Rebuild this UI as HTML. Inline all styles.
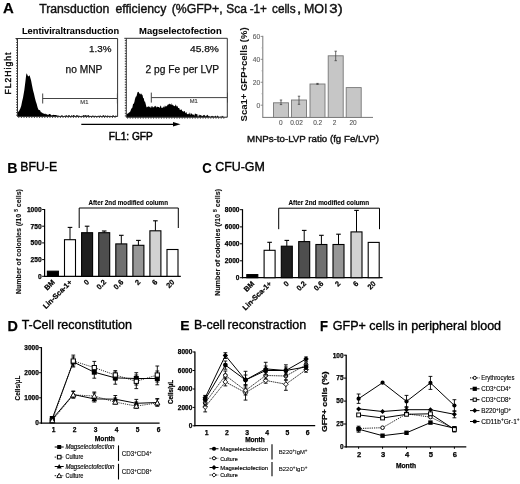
<!DOCTYPE html>
<html><head><meta charset="utf-8"><style>
html,body{margin:0;padding:0;background:#fff;}
svg{display:block;filter:blur(0.3px);}
text{font-family:"Liberation Sans", sans-serif;}
</style></head><body>
<svg width="520" height="484" viewBox="0 0 520 484">
<rect width="520" height="484" fill="#fff"/>
<text x="3.03" y="13.4" font-size="14.2" font-weight="bold" stroke="#000" stroke-width="0.25" textLength="10.76" lengthAdjust="spacingAndGlyphs">A</text>
<text x="39.13" y="12.8" font-size="12.3" fill="#111" stroke="#111" stroke-width="0.4" textLength="70.26" lengthAdjust="spacingAndGlyphs">Transduction</text>
<text x="115.38" y="12.8" font-size="12.3" fill="#111" stroke="#111" stroke-width="0.4" textLength="50.94" lengthAdjust="spacingAndGlyphs">efficiency</text>
<text x="171.74" y="12.8" font-size="12.3" fill="#111" stroke="#111" stroke-width="0.4" textLength="50.87" lengthAdjust="spacingAndGlyphs">(%GFP+,</text>
<text x="226.16" y="12.8" font-size="12.3" fill="#111" stroke="#111" stroke-width="0.4" textLength="20.64" lengthAdjust="spacingAndGlyphs">Sca</text>
<text x="249.68" y="12.8" font-size="12.3" fill="#111" stroke="#111" stroke-width="0.4" textLength="17.19" lengthAdjust="spacingAndGlyphs">-1+</text>
<text x="272.0" y="12.8" font-size="12.3" fill="#111" stroke="#111" stroke-width="0.4" textLength="23.63" lengthAdjust="spacingAndGlyphs">cells</text>
<text x="296.93" y="12.8" font-size="12.3" fill="#111" stroke="#111" stroke-width="0.4" textLength="4.25" lengthAdjust="spacingAndGlyphs">,</text>
<text x="303.98" y="12.8" font-size="12.3" fill="#111" stroke="#111" stroke-width="0.4" textLength="23.47" lengthAdjust="spacingAndGlyphs">MOI</text>
<text x="329.33" y="12.8" font-size="12.3" fill="#111" stroke="#111" stroke-width="0.4" textLength="13.3" lengthAdjust="spacingAndGlyphs">3)</text>
<text x="21.98" y="33.75" font-size="8.8" font-weight="bold" stroke="#000" stroke-width="0.05" textLength="97.09" lengthAdjust="spacingAndGlyphs">Lentiviraltransduction</text>
<text x="139.07" y="33.75" font-size="8.8" font-weight="bold" stroke="#000" stroke-width="0.05" textLength="82.62" lengthAdjust="spacingAndGlyphs">Magselectofection</text>
<path d="M17.5,116.5 L17.60,112.63 L18.50,111.56 L19.30,110.62 L20.20,108.65 L21.20,106.08 L22.10,101.59 L23.00,97.82 L24.30,90.27 L25.50,80.66 L26.20,74.63 L26.80,73.19 L27.60,75.46 L28.50,76.47 L29.60,75.17 L30.30,77.69 L31.10,80.51 L32.05,85.59 L33.00,90.32 L33.90,93.53 L34.80,97.54 L35.75,101.19 L36.70,104.09 L37.60,107.51 L38.50,109.73 L39.33,110.12 L40.17,110.54 L41.00,112.51 L41.71,112.25 L42.43,112.88 L43.14,113.39 L43.86,113.44 L44.57,114.02 L45.29,113.57 L46.00,114.42 L46.75,114.05 L47.50,114.86 L48.25,114.91 L49.00,113.94 L49.75,114.12 L50.50,114.35 L51.25,115.53 L52.00,114.91 L52.72,115.21 L53.44,114.78 L54.17,115.09 L54.89,114.95 L55.61,114.93 L56.33,115.29 L57.06,115.31 L57.78,115.79 L58.50,115.50 L59.22,115.88 L59.94,115.80 L60.67,116.02 L61.39,115.60 L62.11,114.92 L62.83,115.92 L63.56,116.09 L64.28,116.04 L65.00,115.60 L65.71,115.81 L66.43,115.11 L67.14,115.98 L67.86,115.63 L68.57,115.23 L69.29,114.92 L70.00,116.04 L70.71,116.23 L71.43,114.98 L72.14,115.98 L72.86,115.44 L73.57,115.08 L74.29,115.29 L75.00,115.96 L75.71,116.11 L76.43,114.95 L77.14,115.76 L77.86,114.97 L78.57,115.91 L79.29,115.38 L80.00,116.15 L80.71,116.30 L81.43,115.64 L82.14,116.34 L82.86,115.38 L83.57,115.06 L84.29,115.79 L85.00,115.00 L85.71,115.24 L86.43,115.54 L87.14,115.83 L87.86,115.20 L88.57,115.05 L89.29,116.21 L90.00,115.44 L90.71,116.35 L91.42,116.27 L92.13,115.54 L92.84,115.67 L93.55,115.75 L94.26,115.93 L94.97,115.87 L95.68,115.83 L96.39,115.92 L97.11,116.37 L97.82,115.77 L98.53,115.67 L99.24,116.08 L99.95,115.41 L100.66,115.50 L101.37,116.45 L102.08,115.82 L102.79,115.86 L103.50,115.12 L104.21,115.69 L104.92,115.92 L105.63,115.14 L106.34,115.98 L107.05,116.01 L107.76,115.22 L108.47,116.02 L109.18,115.79 L109.89,116.10 L110.61,115.65 L111.32,116.15 L112.03,116.20 L112.74,115.20 L113.45,115.26 L114.16,116.13 L114.87,116.53 L115.58,115.54 L116.29,115.83 L117.00,115.90 L117.6,116.5 Z" fill="#000"/>
<path d="M15.5,38.5 H117.6 V116.5 H17.5 V38.5" fill="none" stroke="#333" stroke-width="1"/>
<line x1="16.0" y1="115.2" x2="17.5" y2="115.2" stroke="#333" stroke-width="0.9" />
<line x1="16.0" y1="112.60000000000001" x2="17.5" y2="112.60000000000001" stroke="#333" stroke-width="0.9" />
<line x1="16.0" y1="110.0" x2="17.5" y2="110.0" stroke="#333" stroke-width="0.9" />
<line x1="16.0" y1="107.4" x2="17.5" y2="107.4" stroke="#333" stroke-width="0.9" />
<line x1="16.0" y1="104.8" x2="17.5" y2="104.8" stroke="#333" stroke-width="0.9" />
<line x1="16.0" y1="102.2" x2="17.5" y2="102.2" stroke="#333" stroke-width="0.9" />
<line x1="16.0" y1="99.6" x2="17.5" y2="99.6" stroke="#333" stroke-width="0.9" />
<line x1="16.0" y1="97.0" x2="17.5" y2="97.0" stroke="#333" stroke-width="0.9" />
<line x1="16.0" y1="94.4" x2="17.5" y2="94.4" stroke="#333" stroke-width="0.9" />
<line x1="16.0" y1="91.8" x2="17.5" y2="91.8" stroke="#333" stroke-width="0.9" />
<line x1="16.0" y1="89.2" x2="17.5" y2="89.2" stroke="#333" stroke-width="0.9" />
<line x1="16.0" y1="86.6" x2="17.5" y2="86.6" stroke="#333" stroke-width="0.9" />
<line x1="16.0" y1="84.0" x2="17.5" y2="84.0" stroke="#333" stroke-width="0.9" />
<line x1="16.0" y1="81.4" x2="17.5" y2="81.4" stroke="#333" stroke-width="0.9" />
<line x1="16.0" y1="78.80000000000001" x2="17.5" y2="78.80000000000001" stroke="#333" stroke-width="0.9" />
<line x1="16.0" y1="76.2" x2="17.5" y2="76.2" stroke="#333" stroke-width="0.9" />
<line x1="16.0" y1="73.6" x2="17.5" y2="73.6" stroke="#333" stroke-width="0.9" />
<line x1="16.0" y1="71.0" x2="17.5" y2="71.0" stroke="#333" stroke-width="0.9" />
<line x1="16.0" y1="68.4" x2="17.5" y2="68.4" stroke="#333" stroke-width="0.9" />
<line x1="16.0" y1="65.80000000000001" x2="17.5" y2="65.80000000000001" stroke="#333" stroke-width="0.9" />
<line x1="16.0" y1="63.2" x2="17.5" y2="63.2" stroke="#333" stroke-width="0.9" />
<line x1="16.0" y1="60.6" x2="17.5" y2="60.6" stroke="#333" stroke-width="0.9" />
<line x1="16.0" y1="58.0" x2="17.5" y2="58.0" stroke="#333" stroke-width="0.9" />
<line x1="16.0" y1="55.4" x2="17.5" y2="55.4" stroke="#333" stroke-width="0.9" />
<line x1="16.0" y1="52.8" x2="17.5" y2="52.8" stroke="#333" stroke-width="0.9" />
<line x1="16.0" y1="50.2" x2="17.5" y2="50.2" stroke="#333" stroke-width="0.9" />
<line x1="16.0" y1="47.599999999999994" x2="17.5" y2="47.599999999999994" stroke="#333" stroke-width="0.9" />
<line x1="16.0" y1="45.0" x2="17.5" y2="45.0" stroke="#333" stroke-width="0.9" />
<line x1="16.0" y1="42.400000000000006" x2="17.5" y2="42.400000000000006" stroke="#333" stroke-width="0.9" />
<line x1="16.0" y1="39.8" x2="17.5" y2="39.8" stroke="#333" stroke-width="0.9" />
<line x1="18.8" y1="116.5" x2="18.8" y2="118.0" stroke="#333" stroke-width="0.9" />
<line x1="21.400000000000002" y1="116.5" x2="21.400000000000002" y2="118.0" stroke="#333" stroke-width="0.9" />
<line x1="24.0" y1="116.5" x2="24.0" y2="118.0" stroke="#333" stroke-width="0.9" />
<line x1="26.6" y1="116.5" x2="26.6" y2="118.0" stroke="#333" stroke-width="0.9" />
<line x1="29.200000000000003" y1="116.5" x2="29.200000000000003" y2="118.0" stroke="#333" stroke-width="0.9" />
<line x1="31.8" y1="116.5" x2="31.8" y2="118.0" stroke="#333" stroke-width="0.9" />
<line x1="34.400000000000006" y1="116.5" x2="34.400000000000006" y2="118.0" stroke="#333" stroke-width="0.9" />
<line x1="37.0" y1="116.5" x2="37.0" y2="118.0" stroke="#333" stroke-width="0.9" />
<line x1="39.6" y1="116.5" x2="39.6" y2="118.0" stroke="#333" stroke-width="0.9" />
<line x1="42.2" y1="116.5" x2="42.2" y2="118.0" stroke="#333" stroke-width="0.9" />
<line x1="44.8" y1="116.5" x2="44.8" y2="118.0" stroke="#333" stroke-width="0.9" />
<line x1="47.400000000000006" y1="116.5" x2="47.400000000000006" y2="118.0" stroke="#333" stroke-width="0.9" />
<line x1="50.0" y1="116.5" x2="50.0" y2="118.0" stroke="#333" stroke-width="0.9" />
<line x1="52.60000000000001" y1="116.5" x2="52.60000000000001" y2="118.0" stroke="#333" stroke-width="0.9" />
<line x1="55.2" y1="116.5" x2="55.2" y2="118.0" stroke="#333" stroke-width="0.9" />
<line x1="57.8" y1="116.5" x2="57.8" y2="118.0" stroke="#333" stroke-width="0.9" />
<line x1="60.400000000000006" y1="116.5" x2="60.400000000000006" y2="118.0" stroke="#333" stroke-width="0.9" />
<line x1="63.0" y1="116.5" x2="63.0" y2="118.0" stroke="#333" stroke-width="0.9" />
<line x1="65.60000000000001" y1="116.5" x2="65.60000000000001" y2="118.0" stroke="#333" stroke-width="0.9" />
<line x1="68.2" y1="116.5" x2="68.2" y2="118.0" stroke="#333" stroke-width="0.9" />
<line x1="70.8" y1="116.5" x2="70.8" y2="118.0" stroke="#333" stroke-width="0.9" />
<line x1="73.4" y1="116.5" x2="73.4" y2="118.0" stroke="#333" stroke-width="0.9" />
<line x1="76.0" y1="116.5" x2="76.0" y2="118.0" stroke="#333" stroke-width="0.9" />
<line x1="78.60000000000001" y1="116.5" x2="78.60000000000001" y2="118.0" stroke="#333" stroke-width="0.9" />
<line x1="81.2" y1="116.5" x2="81.2" y2="118.0" stroke="#333" stroke-width="0.9" />
<line x1="83.8" y1="116.5" x2="83.8" y2="118.0" stroke="#333" stroke-width="0.9" />
<line x1="86.4" y1="116.5" x2="86.4" y2="118.0" stroke="#333" stroke-width="0.9" />
<line x1="89.0" y1="116.5" x2="89.0" y2="118.0" stroke="#333" stroke-width="0.9" />
<line x1="91.6" y1="116.5" x2="91.6" y2="118.0" stroke="#333" stroke-width="0.9" />
<line x1="94.2" y1="116.5" x2="94.2" y2="118.0" stroke="#333" stroke-width="0.9" />
<line x1="96.8" y1="116.5" x2="96.8" y2="118.0" stroke="#333" stroke-width="0.9" />
<line x1="99.4" y1="116.5" x2="99.4" y2="118.0" stroke="#333" stroke-width="0.9" />
<line x1="102.0" y1="116.5" x2="102.0" y2="118.0" stroke="#333" stroke-width="0.9" />
<line x1="104.6" y1="116.5" x2="104.6" y2="118.0" stroke="#333" stroke-width="0.9" />
<line x1="107.2" y1="116.5" x2="107.2" y2="118.0" stroke="#333" stroke-width="0.9" />
<line x1="109.8" y1="116.5" x2="109.8" y2="118.0" stroke="#333" stroke-width="0.9" />
<line x1="112.4" y1="116.5" x2="112.4" y2="118.0" stroke="#333" stroke-width="0.9" />
<line x1="115.0" y1="116.5" x2="115.0" y2="118.0" stroke="#333" stroke-width="0.9" />
<path d="M126.3,117.2 L126.40,114.76 L127.20,113.75 L128.00,113.62 L128.75,112.73 L129.50,112.13 L130.25,111.52 L131.00,109.44 L131.67,108.16 L132.33,107.76 L133.00,104.18 L133.67,103.69 L134.33,102.16 L135.00,98.97 L135.75,96.72 L136.50,96.35 L137.50,92.27 L138.50,91.72 L139.50,93.62 L140.25,94.60 L141.00,93.19 L141.75,94.40 L142.50,95.03 L143.15,97.93 L143.80,98.33 L144.40,101.50 L145.00,101.57 L145.65,103.79 L146.30,106.42 L146.87,107.58 L147.43,106.86 L148.00,106.73 L148.67,106.27 L149.33,107.25 L150.00,106.13 L150.57,107.79 L151.13,107.81 L151.70,105.91 L152.27,106.11 L152.83,107.53 L153.40,107.00 L153.98,107.54 L154.56,106.32 L155.13,105.80 L155.71,106.33 L156.29,107.81 L156.87,106.43 L157.44,106.71 L158.02,106.99 L158.60,107.08 L159.18,106.94 L159.76,108.26 L160.33,106.00 L160.91,105.47 L161.49,107.99 L162.07,107.70 L162.64,107.89 L163.22,106.23 L163.80,107.56 L164.38,107.34 L164.96,105.21 L165.53,106.52 L166.11,106.62 L166.69,105.98 L167.27,105.42 L167.84,104.62 L168.42,104.61 L169.00,104.14 L169.57,103.54 L170.13,104.85 L170.70,103.85 L171.27,105.17 L171.83,102.88 L172.40,105.13 L172.98,104.81 L173.57,105.72 L174.15,105.91 L174.73,106.19 L175.32,105.55 L175.90,104.24 L176.48,106.78 L177.06,105.66 L177.63,106.51 L178.21,108.01 L178.79,108.11 L179.37,108.29 L179.94,110.25 L180.52,109.83 L181.10,109.56 L181.68,109.61 L182.26,111.61 L182.83,110.84 L183.41,111.99 L183.99,111.09 L184.57,110.95 L185.14,112.20 L185.72,113.29 L186.30,111.78 L186.88,113.69 L187.45,114.23 L188.03,114.08 L188.60,114.31 L189.18,112.20 L189.75,114.11 L190.32,114.94 L190.90,112.84 L191.47,113.63 L192.05,113.80 L192.62,114.70 L193.20,114.58 L193.78,114.79 L194.36,115.71 L194.94,113.61 L195.52,113.82 L196.10,114.09 L196.68,114.15 L197.26,114.06 L197.84,116.66 L198.42,116.39 L199.00,114.31 L199.58,115.54 L200.16,115.08 L200.74,115.15 L201.32,115.32 L201.90,116.21 L202.47,116.06 L203.04,115.45 L203.61,115.00 L204.18,115.41 L204.75,114.86 L205.32,116.09 L205.89,116.56 L206.46,115.64 L207.03,114.82 L207.60,115.12 L208.17,115.68 L208.73,116.35 L209.30,116.87 L209.87,115.77 L210.44,116.97 L211.01,116.49 L211.58,115.98 L212.15,115.83 L212.72,116.20 L213.29,116.80 L213.86,116.03 L214.43,116.82 L215.00,116.19 L215.57,115.60 L216.14,116.43 L216.71,116.89 L217.29,115.16 L217.86,116.16 L218.43,116.18 L219.00,117.46 L219.57,117.64 L220.14,116.08 L220.71,117.56 L221.29,117.27 L221.86,115.81 L222.43,116.39 L223.00,115.44 L223.57,117.39 L224.14,116.98 L224.71,117.63 L225.29,117.38 L225.86,117.04 L226.43,117.24 L227.00,116.60 L227.3,117.2 Z" fill="#000"/>
<path d="M124.3,38.3 H227.3 V117.2 H126.3 V38.3" fill="none" stroke="#333" stroke-width="1"/>
<line x1="124.8" y1="115.9" x2="126.3" y2="115.9" stroke="#333" stroke-width="0.9" />
<line x1="124.8" y1="113.30000000000001" x2="126.3" y2="113.30000000000001" stroke="#333" stroke-width="0.9" />
<line x1="124.8" y1="110.7" x2="126.3" y2="110.7" stroke="#333" stroke-width="0.9" />
<line x1="124.8" y1="108.10000000000001" x2="126.3" y2="108.10000000000001" stroke="#333" stroke-width="0.9" />
<line x1="124.8" y1="105.5" x2="126.3" y2="105.5" stroke="#333" stroke-width="0.9" />
<line x1="124.8" y1="102.9" x2="126.3" y2="102.9" stroke="#333" stroke-width="0.9" />
<line x1="124.8" y1="100.30000000000001" x2="126.3" y2="100.30000000000001" stroke="#333" stroke-width="0.9" />
<line x1="124.8" y1="97.7" x2="126.3" y2="97.7" stroke="#333" stroke-width="0.9" />
<line x1="124.8" y1="95.10000000000001" x2="126.3" y2="95.10000000000001" stroke="#333" stroke-width="0.9" />
<line x1="124.8" y1="92.5" x2="126.3" y2="92.5" stroke="#333" stroke-width="0.9" />
<line x1="124.8" y1="89.9" x2="126.3" y2="89.9" stroke="#333" stroke-width="0.9" />
<line x1="124.8" y1="87.30000000000001" x2="126.3" y2="87.30000000000001" stroke="#333" stroke-width="0.9" />
<line x1="124.8" y1="84.7" x2="126.3" y2="84.7" stroke="#333" stroke-width="0.9" />
<line x1="124.8" y1="82.1" x2="126.3" y2="82.1" stroke="#333" stroke-width="0.9" />
<line x1="124.8" y1="79.5" x2="126.3" y2="79.5" stroke="#333" stroke-width="0.9" />
<line x1="124.8" y1="76.9" x2="126.3" y2="76.9" stroke="#333" stroke-width="0.9" />
<line x1="124.8" y1="74.30000000000001" x2="126.3" y2="74.30000000000001" stroke="#333" stroke-width="0.9" />
<line x1="124.8" y1="71.7" x2="126.3" y2="71.7" stroke="#333" stroke-width="0.9" />
<line x1="124.8" y1="69.1" x2="126.3" y2="69.1" stroke="#333" stroke-width="0.9" />
<line x1="124.8" y1="66.5" x2="126.3" y2="66.5" stroke="#333" stroke-width="0.9" />
<line x1="124.8" y1="63.900000000000006" x2="126.3" y2="63.900000000000006" stroke="#333" stroke-width="0.9" />
<line x1="124.8" y1="61.300000000000004" x2="126.3" y2="61.300000000000004" stroke="#333" stroke-width="0.9" />
<line x1="124.8" y1="58.7" x2="126.3" y2="58.7" stroke="#333" stroke-width="0.9" />
<line x1="124.8" y1="56.1" x2="126.3" y2="56.1" stroke="#333" stroke-width="0.9" />
<line x1="124.8" y1="53.5" x2="126.3" y2="53.5" stroke="#333" stroke-width="0.9" />
<line x1="124.8" y1="50.900000000000006" x2="126.3" y2="50.900000000000006" stroke="#333" stroke-width="0.9" />
<line x1="124.8" y1="48.3" x2="126.3" y2="48.3" stroke="#333" stroke-width="0.9" />
<line x1="124.8" y1="45.7" x2="126.3" y2="45.7" stroke="#333" stroke-width="0.9" />
<line x1="124.8" y1="43.10000000000001" x2="126.3" y2="43.10000000000001" stroke="#333" stroke-width="0.9" />
<line x1="124.8" y1="40.5" x2="126.3" y2="40.5" stroke="#333" stroke-width="0.9" />
<line x1="127.6" y1="117.2" x2="127.6" y2="118.7" stroke="#333" stroke-width="0.9" />
<line x1="130.2" y1="117.2" x2="130.2" y2="118.7" stroke="#333" stroke-width="0.9" />
<line x1="132.79999999999998" y1="117.2" x2="132.79999999999998" y2="118.7" stroke="#333" stroke-width="0.9" />
<line x1="135.4" y1="117.2" x2="135.4" y2="118.7" stroke="#333" stroke-width="0.9" />
<line x1="138.0" y1="117.2" x2="138.0" y2="118.7" stroke="#333" stroke-width="0.9" />
<line x1="140.6" y1="117.2" x2="140.6" y2="118.7" stroke="#333" stroke-width="0.9" />
<line x1="143.2" y1="117.2" x2="143.2" y2="118.7" stroke="#333" stroke-width="0.9" />
<line x1="145.79999999999998" y1="117.2" x2="145.79999999999998" y2="118.7" stroke="#333" stroke-width="0.9" />
<line x1="148.4" y1="117.2" x2="148.4" y2="118.7" stroke="#333" stroke-width="0.9" />
<line x1="151.0" y1="117.2" x2="151.0" y2="118.7" stroke="#333" stroke-width="0.9" />
<line x1="153.6" y1="117.2" x2="153.6" y2="118.7" stroke="#333" stroke-width="0.9" />
<line x1="156.2" y1="117.2" x2="156.2" y2="118.7" stroke="#333" stroke-width="0.9" />
<line x1="158.8" y1="117.2" x2="158.8" y2="118.7" stroke="#333" stroke-width="0.9" />
<line x1="161.4" y1="117.2" x2="161.4" y2="118.7" stroke="#333" stroke-width="0.9" />
<line x1="164.0" y1="117.2" x2="164.0" y2="118.7" stroke="#333" stroke-width="0.9" />
<line x1="166.6" y1="117.2" x2="166.6" y2="118.7" stroke="#333" stroke-width="0.9" />
<line x1="169.2" y1="117.2" x2="169.2" y2="118.7" stroke="#333" stroke-width="0.9" />
<line x1="171.8" y1="117.2" x2="171.8" y2="118.7" stroke="#333" stroke-width="0.9" />
<line x1="174.4" y1="117.2" x2="174.4" y2="118.7" stroke="#333" stroke-width="0.9" />
<line x1="177.0" y1="117.2" x2="177.0" y2="118.7" stroke="#333" stroke-width="0.9" />
<line x1="179.6" y1="117.2" x2="179.6" y2="118.7" stroke="#333" stroke-width="0.9" />
<line x1="182.2" y1="117.2" x2="182.2" y2="118.7" stroke="#333" stroke-width="0.9" />
<line x1="184.8" y1="117.2" x2="184.8" y2="118.7" stroke="#333" stroke-width="0.9" />
<line x1="187.4" y1="117.2" x2="187.4" y2="118.7" stroke="#333" stroke-width="0.9" />
<line x1="190.0" y1="117.2" x2="190.0" y2="118.7" stroke="#333" stroke-width="0.9" />
<line x1="192.6" y1="117.2" x2="192.6" y2="118.7" stroke="#333" stroke-width="0.9" />
<line x1="195.2" y1="117.2" x2="195.2" y2="118.7" stroke="#333" stroke-width="0.9" />
<line x1="197.8" y1="117.2" x2="197.8" y2="118.7" stroke="#333" stroke-width="0.9" />
<line x1="200.39999999999998" y1="117.2" x2="200.39999999999998" y2="118.7" stroke="#333" stroke-width="0.9" />
<line x1="203.0" y1="117.2" x2="203.0" y2="118.7" stroke="#333" stroke-width="0.9" />
<line x1="205.6" y1="117.2" x2="205.6" y2="118.7" stroke="#333" stroke-width="0.9" />
<line x1="208.2" y1="117.2" x2="208.2" y2="118.7" stroke="#333" stroke-width="0.9" />
<line x1="210.8" y1="117.2" x2="210.8" y2="118.7" stroke="#333" stroke-width="0.9" />
<line x1="213.39999999999998" y1="117.2" x2="213.39999999999998" y2="118.7" stroke="#333" stroke-width="0.9" />
<line x1="216.0" y1="117.2" x2="216.0" y2="118.7" stroke="#333" stroke-width="0.9" />
<line x1="218.6" y1="117.2" x2="218.6" y2="118.7" stroke="#333" stroke-width="0.9" />
<line x1="221.2" y1="117.2" x2="221.2" y2="118.7" stroke="#333" stroke-width="0.9" />
<line x1="223.8" y1="117.2" x2="223.8" y2="118.7" stroke="#333" stroke-width="0.9" />
<line x1="42.7" y1="98.5" x2="117.4" y2="98.5" stroke="#444" stroke-width="1" />
<line x1="42.7" y1="93.5" x2="42.7" y2="103.5" stroke="#444" stroke-width="1" />
<line x1="117.4" y1="93.5" x2="117.4" y2="103.5" stroke="#444" stroke-width="1" />
<text x="84.35000000000001" y="104.2" font-size="5.8" text-anchor="middle" fill="#444" stroke="#444" stroke-width="0.15">M1</text>
<line x1="151.3" y1="97.6" x2="227.5" y2="97.6" stroke="#444" stroke-width="1" />
<line x1="151.3" y1="92.6" x2="151.3" y2="102.6" stroke="#444" stroke-width="1" />
<line x1="227.5" y1="92.6" x2="227.5" y2="102.6" stroke="#444" stroke-width="1" />
<text x="193.70000000000002" y="103.3" font-size="5.8" text-anchor="middle" fill="#444" stroke="#444" stroke-width="0.15">M1</text>
<text x="89.05" y="52" font-size="9.3" fill="#111" stroke="#111" stroke-width="0.25" textLength="22.4" lengthAdjust="spacingAndGlyphs">1.3%</text>
<text x="65.52" y="72.9" font-size="10" fill="#111" stroke="#111" stroke-width="0.25" textLength="36.81" lengthAdjust="spacingAndGlyphs">no MNP</text>
<text x="189.97" y="52.4" font-size="9.3" fill="#111" stroke="#111" stroke-width="0.25" textLength="29.0" lengthAdjust="spacingAndGlyphs">45.8%</text>
<text x="145.49" y="72.9" font-size="10" fill="#111" stroke="#111" stroke-width="0.25" textLength="73.64" lengthAdjust="spacingAndGlyphs">2 pg Fe per LVP</text>
<text transform="translate(11.2,94.4) rotate(-90)" font-size="8.6" stroke="#000" stroke-width="0.35" textLength="41.8" lengthAdjust="spacing">FL2Hight</text>
<line x1="81.3" y1="124.3" x2="175" y2="124.3" stroke="#000" stroke-width="1.3" />
<path d="M173,122 L180.5,124.3 L173,126.6 Z" fill="#000"/>
<text x="108.87" y="140" font-size="10" stroke="#000" stroke-width="0.45" textLength="43.97" lengthAdjust="spacingAndGlyphs">FL1: GFP</text>
<line x1="262.8" y1="35.8" x2="262.8" y2="117.9" stroke="#777" stroke-width="1" />
<line x1="262.8" y1="117.4" x2="373" y2="117.4" stroke="#777" stroke-width="1" />
<line x1="260.6" y1="36.41000000000001" x2="262.8" y2="36.41000000000001" stroke="#777" stroke-width="0.8" />
<text x="260.2" y="38.71000000000001" font-size="6.6" text-anchor="end" fill="#666" stroke="#666" stroke-width="0.15">60</text>
<line x1="260.6" y1="59.34" x2="262.8" y2="59.34" stroke="#777" stroke-width="0.8" />
<text x="260.2" y="61.64" font-size="6.6" text-anchor="end" fill="#666" stroke="#666" stroke-width="0.15">40</text>
<line x1="260.6" y1="82.27000000000001" x2="262.8" y2="82.27000000000001" stroke="#777" stroke-width="0.8" />
<text x="260.2" y="84.57000000000001" font-size="6.6" text-anchor="end" fill="#666" stroke="#666" stroke-width="0.15">20</text>
<line x1="260.6" y1="105.2" x2="262.8" y2="105.2" stroke="#777" stroke-width="0.8" />
<text x="260.2" y="107.5" font-size="6.6" text-anchor="end" fill="#666" stroke="#666" stroke-width="0.15">0</text>
<line x1="261.5" y1="47.875" x2="262.8" y2="47.875" stroke="#999" stroke-width="0.7" />
<line x1="261.5" y1="70.805" x2="262.8" y2="70.805" stroke="#999" stroke-width="0.7" />
<line x1="261.5" y1="93.735" x2="262.8" y2="93.735" stroke="#999" stroke-width="0.7" />
<rect x="273.5" y="102.8" width="15" height="14.600000000000009" fill="#c6c6c6" stroke="#777" stroke-width="0.9"/>
<line x1="281.0" y1="100" x2="281.0" y2="104.6" stroke="#444" stroke-width="0.8" />
<line x1="279.8" y1="100" x2="282.2" y2="100" stroke="#444" stroke-width="0.8" />
<line x1="279.8" y1="104.6" x2="282.2" y2="104.6" stroke="#444" stroke-width="0.8" />
<rect x="291.5" y="100" width="15" height="17.400000000000006" fill="#c6c6c6" stroke="#777" stroke-width="0.9"/>
<line x1="299.0" y1="96.2" x2="299.0" y2="104.3" stroke="#444" stroke-width="0.8" />
<line x1="297.8" y1="96.2" x2="300.2" y2="96.2" stroke="#444" stroke-width="0.8" />
<line x1="297.8" y1="104.3" x2="300.2" y2="104.3" stroke="#444" stroke-width="0.8" />
<rect x="310" y="84" width="15" height="33.400000000000006" fill="#c6c6c6" stroke="#777" stroke-width="0.9"/>
<line x1="317.5" y1="83.4" x2="317.5" y2="84.4" stroke="#444" stroke-width="0.8" />
<line x1="316.3" y1="83.4" x2="318.7" y2="83.4" stroke="#444" stroke-width="0.8" />
<line x1="316.3" y1="84.4" x2="318.7" y2="84.4" stroke="#444" stroke-width="0.8" />
<rect x="328.2" y="55.8" width="15" height="61.60000000000001" fill="#c6c6c6" stroke="#777" stroke-width="0.9"/>
<line x1="335.7" y1="51.2" x2="335.7" y2="60.7" stroke="#444" stroke-width="0.8" />
<line x1="334.5" y1="51.2" x2="336.9" y2="51.2" stroke="#444" stroke-width="0.8" />
<line x1="334.5" y1="60.7" x2="336.9" y2="60.7" stroke="#444" stroke-width="0.8" />
<rect x="346.2" y="87.6" width="15" height="29.80000000000001" fill="#c6c6c6" stroke="#777" stroke-width="0.9"/>
<text x="280.8" y="125.2" font-size="6.5" text-anchor="middle" fill="#555" stroke="#555" stroke-width="0.1">0</text>
<text x="296.5" y="125.2" font-size="6.5" text-anchor="middle" fill="#555" stroke="#555" stroke-width="0.1">0.02</text>
<text x="317.7" y="125.2" font-size="6.5" text-anchor="middle" fill="#555" stroke="#555" stroke-width="0.1">0.2</text>
<text x="334.6" y="125.2" font-size="6.5" text-anchor="middle" fill="#555" stroke="#555" stroke-width="0.1">2</text>
<text x="353" y="125.2" font-size="6.5" text-anchor="middle" fill="#555" stroke="#555" stroke-width="0.1">20</text>
<text transform="translate(247.1,121.4) rotate(-90)" font-size="9.0" font-weight="bold" fill="#111" stroke="#111" stroke-width="0.05" textLength="94.0" lengthAdjust="spacingAndGlyphs">Sca1+ GFP+cells (%)</text>
<text x="247.11" y="141.5" font-size="9.7" fill="#111" stroke="#111" stroke-width="0.4" textLength="131.78" lengthAdjust="spacingAndGlyphs">MNPs-to-LVP ratio (fg Fe/LVP)</text>
<text x="7.25" y="172.6" font-size="14" font-weight="bold" stroke="#000" stroke-width="0.1" textLength="10.3" lengthAdjust="spacingAndGlyphs">B</text>
<text x="20.29" y="171.0" font-size="12.2" stroke="#000" stroke-width="0.35" textLength="36.83" lengthAdjust="spacingAndGlyphs">BFU-E</text>
<line x1="44.6" y1="209.0" x2="44.6" y2="276.90000000000003" stroke="#000" stroke-width="1.2" />
<line x1="44.0" y1="276.3" x2="180.8" y2="276.3" stroke="#000" stroke-width="1.2" />
<line x1="42.1" y1="209.5" x2="44.6" y2="209.5" stroke="#000" stroke-width="1" />
<text x="41.6" y="211.8" font-size="6.6" font-weight="bold" text-anchor="end" stroke="#000" stroke-width="0.25">1000</text>
<line x1="42.1" y1="226.2" x2="44.6" y2="226.2" stroke="#000" stroke-width="1" />
<text x="41.6" y="228.5" font-size="6.6" font-weight="bold" text-anchor="end" stroke="#000" stroke-width="0.25">750</text>
<line x1="42.1" y1="242.9" x2="44.6" y2="242.9" stroke="#000" stroke-width="1" />
<text x="41.6" y="245.20000000000002" font-size="6.6" font-weight="bold" text-anchor="end" stroke="#000" stroke-width="0.25">500</text>
<line x1="42.1" y1="259.6" x2="44.6" y2="259.6" stroke="#000" stroke-width="1" />
<text x="41.6" y="261.90000000000003" font-size="6.6" font-weight="bold" text-anchor="end" stroke="#000" stroke-width="0.25">250</text>
<line x1="42.1" y1="276.3" x2="44.6" y2="276.3" stroke="#000" stroke-width="1" />
<text x="41.6" y="278.6" font-size="6.6" font-weight="bold" text-anchor="end" stroke="#000" stroke-width="0.25">0</text>
<rect x="47.4" y="271.2" width="11" height="5.100000000000023" fill="#000" stroke="#000" stroke-width="1.1"/>
<rect x="64.5" y="239.7" width="11" height="36.60000000000002" fill="#fff" stroke="#000" stroke-width="1.1"/>
<line x1="70" y1="227.4" x2="70" y2="239.7" stroke="#000" stroke-width="1" />
<line x1="67.7" y1="227.4" x2="72.3" y2="227.4" stroke="#000" stroke-width="1.1" />
<rect x="81.6" y="232.7" width="11" height="43.60000000000002" fill="#1e1e1e" stroke="#000" stroke-width="1.1"/>
<line x1="87.1" y1="226.2" x2="87.1" y2="232.7" stroke="#000" stroke-width="1" />
<line x1="84.8" y1="226.2" x2="89.39999999999999" y2="226.2" stroke="#000" stroke-width="1.1" />
<rect x="98.7" y="232.7" width="11" height="43.60000000000002" fill="#4e4e4e" stroke="#000" stroke-width="1.1"/>
<line x1="104.2" y1="231.0" x2="104.2" y2="232.7" stroke="#000" stroke-width="1" />
<line x1="101.9" y1="231.0" x2="106.5" y2="231.0" stroke="#000" stroke-width="1.1" />
<rect x="115.8" y="243.9" width="11" height="32.400000000000006" fill="#707070" stroke="#000" stroke-width="1.1"/>
<line x1="121.3" y1="235.3" x2="121.3" y2="243.9" stroke="#000" stroke-width="1" />
<line x1="119.0" y1="235.3" x2="123.6" y2="235.3" stroke="#000" stroke-width="1.1" />
<rect x="132.9" y="245.3" width="11" height="31.0" fill="#979797" stroke="#000" stroke-width="1.1"/>
<line x1="138.4" y1="240.4" x2="138.4" y2="245.3" stroke="#000" stroke-width="1" />
<line x1="136.1" y1="240.4" x2="140.70000000000002" y2="240.4" stroke="#000" stroke-width="1.1" />
<rect x="149.9" y="230.8" width="11" height="45.5" fill="#d2d2d2" stroke="#000" stroke-width="1.1"/>
<line x1="155.4" y1="220.8" x2="155.4" y2="230.8" stroke="#000" stroke-width="1" />
<line x1="153.1" y1="220.8" x2="157.70000000000002" y2="220.8" stroke="#000" stroke-width="1.1" />
<rect x="167.0" y="249.5" width="11" height="26.80000000000001" fill="#fff" stroke="#000" stroke-width="1.1"/>
<path d="M79.2,228 V208 H178.3 V228" fill="none" stroke="#000" stroke-width="1"/>
<text x="88.44" y="204.6" font-size="6.5" font-weight="bold" stroke="#000" stroke-width="0.1" textLength="79.55" lengthAdjust="spacingAndGlyphs">After 2nd modified column</text>
<text transform="translate(55.4,282.7) rotate(-45)" font-size="7.4" font-weight="bold" text-anchor="end" stroke="#000" stroke-width="0.25">BM</text>
<text transform="translate(72.5,282.7) rotate(-45)" font-size="7.4" font-weight="bold" text-anchor="end" stroke="#000" stroke-width="0.25">Lin-Sca-1+</text>
<text transform="translate(89.6,282.7) rotate(-45)" font-size="7.4" font-weight="bold" text-anchor="end" stroke="#000" stroke-width="0.25">0</text>
<text transform="translate(106.7,282.7) rotate(-45)" font-size="7.4" font-weight="bold" text-anchor="end" stroke="#000" stroke-width="0.25">0.2</text>
<text transform="translate(123.8,282.7) rotate(-45)" font-size="7.4" font-weight="bold" text-anchor="end" stroke="#000" stroke-width="0.25">0.6</text>
<text transform="translate(140.9,282.7) rotate(-45)" font-size="7.4" font-weight="bold" text-anchor="end" stroke="#000" stroke-width="0.25">2</text>
<text transform="translate(157.9,282.7) rotate(-45)" font-size="7.4" font-weight="bold" text-anchor="end" stroke="#000" stroke-width="0.25">6</text>
<text transform="translate(175.0,282.7) rotate(-45)" font-size="7.4" font-weight="bold" text-anchor="end" stroke="#000" stroke-width="0.25">20</text>
<text transform="translate(21.4,294.2) rotate(-90)" font-size="6.7" font-weight="bold" fill="#111" stroke="#111" stroke-width="0.12" textLength="105.2" lengthAdjust="spacingAndGlyphs">Number of colonies (/10 <tspan font-size="4.6" dy="-3.2">5</tspan><tspan dy="3.2"> cells)</tspan></text>
<text x="202.36" y="172.6" font-size="14" font-weight="bold" stroke="#000" stroke-width="0.1" textLength="9.5" lengthAdjust="spacingAndGlyphs">C</text>
<text x="215.17" y="171.0" font-size="12.2" stroke="#000" stroke-width="0.35" textLength="49.75" lengthAdjust="spacingAndGlyphs">CFU-GM</text>
<line x1="242.5" y1="209.2" x2="242.5" y2="278.3" stroke="#000" stroke-width="1.2" />
<line x1="241.9" y1="277.7" x2="382.6" y2="277.7" stroke="#000" stroke-width="1.2" />
<line x1="240.0" y1="209.7" x2="242.5" y2="209.7" stroke="#000" stroke-width="1" />
<text x="239.5" y="212.0" font-size="6.6" font-weight="bold" text-anchor="end" stroke="#000" stroke-width="0.25">8000</text>
<line x1="240.0" y1="226.9" x2="242.5" y2="226.9" stroke="#000" stroke-width="1" />
<text x="239.5" y="229.20000000000002" font-size="6.6" font-weight="bold" text-anchor="end" stroke="#000" stroke-width="0.25">6000</text>
<line x1="240.0" y1="243.8" x2="242.5" y2="243.8" stroke="#000" stroke-width="1" />
<text x="239.5" y="246.10000000000002" font-size="6.6" font-weight="bold" text-anchor="end" stroke="#000" stroke-width="0.25">4000</text>
<line x1="240.0" y1="260.8" x2="242.5" y2="260.8" stroke="#000" stroke-width="1" />
<text x="239.5" y="263.1" font-size="6.6" font-weight="bold" text-anchor="end" stroke="#000" stroke-width="0.25">2000</text>
<line x1="240.0" y1="277.7" x2="242.5" y2="277.7" stroke="#000" stroke-width="1" />
<text x="239.5" y="280.0" font-size="6.6" font-weight="bold" text-anchor="end" stroke="#000" stroke-width="0.25">0</text>
<rect x="246.8" y="274.6" width="11" height="3.099999999999966" fill="#000" stroke="#000" stroke-width="1.1"/>
<rect x="264.1" y="250.3" width="11" height="27.399999999999977" fill="#fff" stroke="#000" stroke-width="1.1"/>
<line x1="269.6" y1="242.3" x2="269.6" y2="250.3" stroke="#000" stroke-width="1" />
<line x1="267.3" y1="242.3" x2="271.90000000000003" y2="242.3" stroke="#000" stroke-width="1.1" />
<rect x="281.3" y="246.2" width="11" height="31.5" fill="#1e1e1e" stroke="#000" stroke-width="1.1"/>
<line x1="286.8" y1="240.4" x2="286.8" y2="246.2" stroke="#000" stroke-width="1" />
<line x1="284.5" y1="240.4" x2="289.1" y2="240.4" stroke="#000" stroke-width="1.1" />
<rect x="298.7" y="241.6" width="11" height="36.099999999999994" fill="#4e4e4e" stroke="#000" stroke-width="1.1"/>
<line x1="304.2" y1="230.4" x2="304.2" y2="241.6" stroke="#000" stroke-width="1" />
<line x1="301.9" y1="230.4" x2="306.5" y2="230.4" stroke="#000" stroke-width="1.1" />
<rect x="315.9" y="244.5" width="11" height="33.19999999999999" fill="#707070" stroke="#000" stroke-width="1.1"/>
<line x1="321.4" y1="235.3" x2="321.4" y2="244.5" stroke="#000" stroke-width="1" />
<line x1="319.09999999999997" y1="235.3" x2="323.7" y2="235.3" stroke="#000" stroke-width="1.1" />
<rect x="333.0" y="244.5" width="11" height="33.19999999999999" fill="#979797" stroke="#000" stroke-width="1.1"/>
<line x1="338.5" y1="234.2" x2="338.5" y2="244.5" stroke="#000" stroke-width="1" />
<line x1="336.2" y1="234.2" x2="340.8" y2="234.2" stroke="#000" stroke-width="1.1" />
<rect x="351.0" y="231.9" width="11" height="45.79999999999998" fill="#d2d2d2" stroke="#000" stroke-width="1.1"/>
<line x1="356.5" y1="210.4" x2="356.5" y2="231.9" stroke="#000" stroke-width="1" />
<line x1="354.2" y1="210.4" x2="358.8" y2="210.4" stroke="#000" stroke-width="1.1" />
<rect x="368.2" y="242.4" width="11" height="35.29999999999998" fill="#fff" stroke="#000" stroke-width="1.1"/>
<path d="M278.7,229.2 V208.2 H379.5 V229.2" fill="none" stroke="#000" stroke-width="1"/>
<text x="288.44" y="205" font-size="6.5" font-weight="bold" stroke="#000" stroke-width="0.1" textLength="80.75" lengthAdjust="spacingAndGlyphs">After 2nd modified column</text>
<text transform="translate(254.8,284.09999999999997) rotate(-45)" font-size="7.4" font-weight="bold" text-anchor="end" stroke="#000" stroke-width="0.25">BM</text>
<text transform="translate(272.1,284.09999999999997) rotate(-45)" font-size="7.4" font-weight="bold" text-anchor="end" stroke="#000" stroke-width="0.25">Lin-Sca-1+</text>
<text transform="translate(289.3,284.09999999999997) rotate(-45)" font-size="7.4" font-weight="bold" text-anchor="end" stroke="#000" stroke-width="0.25">0</text>
<text transform="translate(306.7,284.09999999999997) rotate(-45)" font-size="7.4" font-weight="bold" text-anchor="end" stroke="#000" stroke-width="0.25">0.2</text>
<text transform="translate(323.9,284.09999999999997) rotate(-45)" font-size="7.4" font-weight="bold" text-anchor="end" stroke="#000" stroke-width="0.25">0.6</text>
<text transform="translate(341.0,284.09999999999997) rotate(-45)" font-size="7.4" font-weight="bold" text-anchor="end" stroke="#000" stroke-width="0.25">2</text>
<text transform="translate(359.0,284.09999999999997) rotate(-45)" font-size="7.4" font-weight="bold" text-anchor="end" stroke="#000" stroke-width="0.25">6</text>
<text transform="translate(376.2,284.09999999999997) rotate(-45)" font-size="7.4" font-weight="bold" text-anchor="end" stroke="#000" stroke-width="0.25">20</text>
<text transform="translate(219.7,296.1) rotate(-90)" font-size="6.7" font-weight="bold" fill="#111" stroke="#111" stroke-width="0.12" textLength="107.4" lengthAdjust="spacingAndGlyphs">Number of colonies (/10 <tspan font-size="4.6" dy="-3.2">5</tspan><tspan dy="3.2"> cells)</tspan></text>
<text x="7.54" y="331.3" font-size="14" font-weight="bold" stroke="#000" stroke-width="0.25" textLength="10.36" lengthAdjust="spacingAndGlyphs">D</text>
<text x="21.63" y="329.2" font-size="12.6" stroke="#000" stroke-width="0.35" textLength="32.39" lengthAdjust="spacingAndGlyphs">T-Cell</text>
<text x="57.17" y="329.2" font-size="12.6" stroke="#000" stroke-width="0.35" textLength="74.75" lengthAdjust="spacingAndGlyphs">reconstitution</text>
<line x1="41.4" y1="347.1" x2="41.4" y2="423.8" stroke="#000" stroke-width="1.3" />
<line x1="40.8" y1="423.2" x2="159.6" y2="423.2" stroke="#000" stroke-width="1.3" />
<line x1="39.1" y1="347.6" x2="41.4" y2="347.6" stroke="#000" stroke-width="1" />
<text x="38.8" y="349.90000000000003" font-size="6.5" font-weight="bold" text-anchor="end" stroke="#000" stroke-width="0.25">3000</text>
<line x1="39.1" y1="372.7" x2="41.4" y2="372.7" stroke="#000" stroke-width="1" />
<text x="38.8" y="375.0" font-size="6.5" font-weight="bold" text-anchor="end" stroke="#000" stroke-width="0.25">2000</text>
<line x1="39.1" y1="397.8" x2="41.4" y2="397.8" stroke="#000" stroke-width="1" />
<text x="38.8" y="400.1" font-size="6.5" font-weight="bold" text-anchor="end" stroke="#000" stroke-width="0.25">1000</text>
<line x1="39.1" y1="423.0" x2="41.4" y2="423.0" stroke="#000" stroke-width="1" />
<text x="38.8" y="425.3" font-size="6.5" font-weight="bold" text-anchor="end" stroke="#000" stroke-width="0.25">0</text>
<text x="53.699999999999996" y="431.9" font-size="6.6" font-weight="bold" text-anchor="middle" stroke="#000" stroke-width="0.25">1</text>
<text x="74.7" y="431.9" font-size="6.6" font-weight="bold" text-anchor="middle" stroke="#000" stroke-width="0.25">2</text>
<text x="95.7" y="431.9" font-size="6.6" font-weight="bold" text-anchor="middle" stroke="#000" stroke-width="0.25">3</text>
<text x="116.7" y="431.9" font-size="6.6" font-weight="bold" text-anchor="middle" stroke="#000" stroke-width="0.25">4</text>
<text x="137.70000000000002" y="431.9" font-size="6.6" font-weight="bold" text-anchor="middle" stroke="#000" stroke-width="0.25">5</text>
<text x="158.70000000000002" y="431.9" font-size="6.6" font-weight="bold" text-anchor="middle" stroke="#000" stroke-width="0.25">6</text>
<text x="94.75" y="440.8" font-size="6.8" font-weight="bold" stroke="#000" stroke-width="0.25" textLength="20.06" lengthAdjust="spacingAndGlyphs">Month</text>
<text transform="translate(19.9,400.5) rotate(-90)" font-size="6.6" font-weight="bold" stroke="#000" stroke-width="0.1" textLength="25.0" lengthAdjust="spacingAndGlyphs">Cells/µL</text>
<path d="M52.30,418.50 L73.30,362.00 L94.30,372.20 L115.30,377.90 L136.30,378.50 L157.30,378.50" fill="none" stroke="#000" stroke-width="1.0"/>
<line x1="73.3" y1="357" x2="73.3" y2="367" stroke="#000" stroke-width="0.9" />
<line x1="71.39999999999999" y1="357" x2="75.2" y2="357" stroke="#000" stroke-width="0.9" />
<line x1="71.39999999999999" y1="367" x2="75.2" y2="367" stroke="#000" stroke-width="0.9" />
<line x1="94.3" y1="366" x2="94.3" y2="378.2" stroke="#000" stroke-width="0.9" />
<line x1="92.39999999999999" y1="366" x2="96.2" y2="366" stroke="#000" stroke-width="0.9" />
<line x1="92.39999999999999" y1="378.2" x2="96.2" y2="378.2" stroke="#000" stroke-width="0.9" />
<line x1="115.3" y1="372" x2="115.3" y2="384.2" stroke="#000" stroke-width="0.9" />
<line x1="113.39999999999999" y1="372" x2="117.2" y2="372" stroke="#000" stroke-width="0.9" />
<line x1="113.39999999999999" y1="384.2" x2="117.2" y2="384.2" stroke="#000" stroke-width="0.9" />
<line x1="136.3" y1="372.7" x2="136.3" y2="385" stroke="#000" stroke-width="0.9" />
<line x1="134.4" y1="372.7" x2="138.20000000000002" y2="372.7" stroke="#000" stroke-width="0.9" />
<line x1="134.4" y1="385" x2="138.20000000000002" y2="385" stroke="#000" stroke-width="0.9" />
<line x1="157.3" y1="371" x2="157.3" y2="384.8" stroke="#000" stroke-width="0.9" />
<line x1="155.4" y1="371" x2="159.20000000000002" y2="371" stroke="#000" stroke-width="0.9" />
<line x1="155.4" y1="384.8" x2="159.20000000000002" y2="384.8" stroke="#000" stroke-width="0.9" />
<rect x="49.8" y="416.0" width="5.0" height="5.0" fill="#000"/>
<rect x="70.8" y="359.5" width="5.0" height="5.0" fill="#000"/>
<rect x="91.8" y="369.7" width="5.0" height="5.0" fill="#000"/>
<rect x="112.8" y="375.4" width="5.0" height="5.0" fill="#000"/>
<rect x="133.8" y="376.0" width="5.0" height="5.0" fill="#000"/>
<rect x="154.8" y="376.0" width="5.0" height="5.0" fill="#000"/>
<path d="M52.30,420.80 L73.30,361.00 L94.30,367.60 L115.30,375.00 L136.30,381.30 L157.30,375.00" fill="none" stroke="#000" stroke-width="0.8" stroke-dasharray="1.2,1"/>
<line x1="73.3" y1="355.1" x2="73.3" y2="366" stroke="#000" stroke-width="0.9" />
<line x1="71.39999999999999" y1="355.1" x2="75.2" y2="355.1" stroke="#000" stroke-width="0.9" />
<line x1="71.39999999999999" y1="366" x2="75.2" y2="366" stroke="#000" stroke-width="0.9" />
<line x1="94.3" y1="361.4" x2="94.3" y2="372" stroke="#000" stroke-width="0.9" />
<line x1="92.39999999999999" y1="361.4" x2="96.2" y2="361.4" stroke="#000" stroke-width="0.9" />
<line x1="92.39999999999999" y1="372" x2="96.2" y2="372" stroke="#000" stroke-width="0.9" />
<line x1="115.3" y1="370.6" x2="115.3" y2="380" stroke="#000" stroke-width="0.9" />
<line x1="113.39999999999999" y1="370.6" x2="117.2" y2="370.6" stroke="#000" stroke-width="0.9" />
<line x1="113.39999999999999" y1="380" x2="117.2" y2="380" stroke="#000" stroke-width="0.9" />
<line x1="136.3" y1="375" x2="136.3" y2="388.6" stroke="#000" stroke-width="0.9" />
<line x1="134.4" y1="375" x2="138.20000000000002" y2="375" stroke="#000" stroke-width="0.9" />
<line x1="134.4" y1="388.6" x2="138.20000000000002" y2="388.6" stroke="#000" stroke-width="0.9" />
<line x1="157.3" y1="366" x2="157.3" y2="382" stroke="#000" stroke-width="0.9" />
<line x1="155.4" y1="366" x2="159.20000000000002" y2="366" stroke="#000" stroke-width="0.9" />
<line x1="155.4" y1="382" x2="159.20000000000002" y2="382" stroke="#000" stroke-width="0.9" />
<rect x="50.199999999999996" y="418.7" width="4.2" height="4.2" fill="#fff" stroke="#000" stroke-width="1"/>
<rect x="71.2" y="358.9" width="4.2" height="4.2" fill="#fff" stroke="#000" stroke-width="1"/>
<rect x="92.2" y="365.5" width="4.2" height="4.2" fill="#fff" stroke="#000" stroke-width="1"/>
<rect x="113.2" y="372.9" width="4.2" height="4.2" fill="#fff" stroke="#000" stroke-width="1"/>
<rect x="134.20000000000002" y="379.2" width="4.2" height="4.2" fill="#fff" stroke="#000" stroke-width="1"/>
<rect x="155.20000000000002" y="372.9" width="4.2" height="4.2" fill="#fff" stroke="#000" stroke-width="1"/>
<path d="M52.30,419.00 L73.30,394.50 L94.30,398.90 L115.30,399.20 L136.30,403.30 L157.30,402.50" fill="none" stroke="#000" stroke-width="1.0"/>
<line x1="73.3" y1="391" x2="73.3" y2="398" stroke="#000" stroke-width="0.9" />
<line x1="71.39999999999999" y1="391" x2="75.2" y2="391" stroke="#000" stroke-width="0.9" />
<line x1="71.39999999999999" y1="398" x2="75.2" y2="398" stroke="#000" stroke-width="0.9" />
<line x1="94.3" y1="393" x2="94.3" y2="402" stroke="#000" stroke-width="0.9" />
<line x1="92.39999999999999" y1="393" x2="96.2" y2="393" stroke="#000" stroke-width="0.9" />
<line x1="92.39999999999999" y1="402" x2="96.2" y2="402" stroke="#000" stroke-width="0.9" />
<line x1="115.3" y1="395.5" x2="115.3" y2="403.8" stroke="#000" stroke-width="0.9" />
<line x1="113.39999999999999" y1="395.5" x2="117.2" y2="395.5" stroke="#000" stroke-width="0.9" />
<line x1="113.39999999999999" y1="403.8" x2="117.2" y2="403.8" stroke="#000" stroke-width="0.9" />
<line x1="136.3" y1="399.4" x2="136.3" y2="407" stroke="#000" stroke-width="0.9" />
<line x1="134.4" y1="399.4" x2="138.20000000000002" y2="399.4" stroke="#000" stroke-width="0.9" />
<line x1="134.4" y1="407" x2="138.20000000000002" y2="407" stroke="#000" stroke-width="0.9" />
<line x1="157.3" y1="399" x2="157.3" y2="406" stroke="#000" stroke-width="0.9" />
<line x1="155.4" y1="399" x2="159.20000000000002" y2="399" stroke="#000" stroke-width="0.9" />
<line x1="155.4" y1="406" x2="159.20000000000002" y2="406" stroke="#000" stroke-width="0.9" />
<path d="M52.3,416.2 L55.099999999999994,421.3 L49.5,421.3 Z" fill="#000"/>
<path d="M73.3,391.7 L76.1,396.8 L70.5,396.8 Z" fill="#000"/>
<path d="M94.3,396.09999999999997 L97.1,401.2 L91.5,401.2 Z" fill="#000"/>
<path d="M115.3,396.4 L118.1,401.5 L112.5,401.5 Z" fill="#000"/>
<path d="M136.3,400.5 L139.10000000000002,405.6 L133.5,405.6 Z" fill="#000"/>
<path d="M157.3,399.7 L160.10000000000002,404.8 L154.5,404.8 Z" fill="#000"/>
<path d="M52.30,420.50 L73.30,394.90 L94.30,396.00 L115.30,402.10 L136.30,406.10 L157.30,402.90" fill="none" stroke="#000" stroke-width="0.8" stroke-dasharray="1.2,1"/>
<line x1="73.3" y1="391.5" x2="73.3" y2="398" stroke="#000" stroke-width="0.9" />
<line x1="71.39999999999999" y1="391.5" x2="75.2" y2="391.5" stroke="#000" stroke-width="0.9" />
<line x1="71.39999999999999" y1="398" x2="75.2" y2="398" stroke="#000" stroke-width="0.9" />
<line x1="94.3" y1="392" x2="94.3" y2="400" stroke="#000" stroke-width="0.9" />
<line x1="92.39999999999999" y1="392" x2="96.2" y2="392" stroke="#000" stroke-width="0.9" />
<line x1="92.39999999999999" y1="400" x2="96.2" y2="400" stroke="#000" stroke-width="0.9" />
<line x1="115.3" y1="398" x2="115.3" y2="404" stroke="#000" stroke-width="0.9" />
<line x1="113.39999999999999" y1="398" x2="117.2" y2="398" stroke="#000" stroke-width="0.9" />
<line x1="113.39999999999999" y1="404" x2="117.2" y2="404" stroke="#000" stroke-width="0.9" />
<line x1="136.3" y1="402" x2="136.3" y2="408.4" stroke="#000" stroke-width="0.9" />
<line x1="134.4" y1="402" x2="138.20000000000002" y2="402" stroke="#000" stroke-width="0.9" />
<line x1="134.4" y1="408.4" x2="138.20000000000002" y2="408.4" stroke="#000" stroke-width="0.9" />
<line x1="157.3" y1="398.6" x2="157.3" y2="406.1" stroke="#000" stroke-width="0.9" />
<line x1="155.4" y1="398.6" x2="159.20000000000002" y2="398.6" stroke="#000" stroke-width="0.9" />
<line x1="155.4" y1="406.1" x2="159.20000000000002" y2="406.1" stroke="#000" stroke-width="0.9" />
<path d="M52.3,417.9 L54.9,422.6 L49.699999999999996,422.6 Z" fill="#fff" stroke="#000" stroke-width="0.9"/>
<path d="M73.3,392.29999999999995 L75.89999999999999,397.0 L70.7,397.0 Z" fill="#fff" stroke="#000" stroke-width="0.9"/>
<path d="M94.3,393.4 L96.89999999999999,398.1 L91.7,398.1 Z" fill="#fff" stroke="#000" stroke-width="0.9"/>
<path d="M115.3,399.5 L117.89999999999999,404.20000000000005 L112.7,404.20000000000005 Z" fill="#fff" stroke="#000" stroke-width="0.9"/>
<path d="M136.3,403.5 L138.9,408.20000000000005 L133.70000000000002,408.20000000000005 Z" fill="#fff" stroke="#000" stroke-width="0.9"/>
<path d="M157.3,400.29999999999995 L159.9,405.0 L154.70000000000002,405.0 Z" fill="#fff" stroke="#000" stroke-width="0.9"/>
<line x1="54.7" y1="447" x2="63.7" y2="447" stroke="#000" stroke-width="1"/>
<rect x="57.2" y="445.0" width="4.0" height="4.0" fill="#000"/>
<text x="65.4" y="449.3" font-size="6.5" stroke="#000" stroke-width="0.15" textLength="49.1" lengthAdjust="spacingAndGlyphs"><tspan font-style="italic">Magselectofection</tspan></text>
<line x1="54.7" y1="457.1" x2="63.7" y2="457.1" stroke="#000" stroke-width="1" stroke-dasharray="1.2,1"/>
<rect x="57.400000000000006" y="455.3" width="3.5999999999999996" height="3.5999999999999996" fill="#fff" stroke="#000" stroke-width="1"/>
<text x="65.4" y="459.40000000000003" font-size="6.5" stroke="#000" stroke-width="0.15" textLength="18.1" lengthAdjust="spacingAndGlyphs">Culture</text>
<line x1="54.7" y1="466.5" x2="63.7" y2="466.5" stroke="#000" stroke-width="1"/>
<path d="M59.2,464.0 L61.7,468.5 L56.7,468.5 Z" fill="#000"/>
<text x="65.4" y="468.8" font-size="6.5" stroke="#000" stroke-width="0.15" textLength="49.1" lengthAdjust="spacingAndGlyphs"><tspan font-style="italic">Magselectofection</tspan></text>
<line x1="54.7" y1="475.7" x2="63.7" y2="475.7" stroke="#000" stroke-width="1" stroke-dasharray="1.2,1"/>
<path d="M59.2,473.3 L61.6,477.59999999999997 L56.800000000000004,477.59999999999997 Z" fill="#fff" stroke="#000" stroke-width="0.9"/>
<text x="65.4" y="478.0" font-size="6.5" stroke="#000" stroke-width="0.15" textLength="18.1" lengthAdjust="spacingAndGlyphs">Culture</text>
<line x1="118.5" y1="445.4" x2="118.5" y2="460.9" stroke="#000" stroke-width="1.1" />
<line x1="118.5" y1="463.8" x2="118.5" y2="479.5" stroke="#000" stroke-width="1.1" />
<text x="121.8" y="455.9" font-size="6.6" stroke="#000" stroke-width="0.12" textLength="29.9" lengthAdjust="spacingAndGlyphs">CD3<tspan font-size="4.6" dy="-2.4">+</tspan><tspan dy="2.4">CD4</tspan><tspan font-size="4.6" dy="-2.4">+</tspan></text>
<text x="121.8" y="473.9" font-size="6.6" stroke="#000" stroke-width="0.12" textLength="29.9" lengthAdjust="spacingAndGlyphs">CD3<tspan font-size="4.6" dy="-2.4">+</tspan><tspan dy="2.4">CD8</tspan><tspan font-size="4.6" dy="-2.4">+</tspan></text>
<text x="180.17" y="329.6" font-size="13.6" font-weight="bold" stroke="#000" stroke-width="0.25" textLength="9.27" lengthAdjust="spacingAndGlyphs">E</text>
<text x="193.98" y="329.1" font-size="12.6" stroke="#000" stroke-width="0.35" textLength="31.16" lengthAdjust="spacingAndGlyphs">B-cell</text>
<text x="227.57" y="329.1" font-size="12.6" stroke="#000" stroke-width="0.35" textLength="78.64" lengthAdjust="spacingAndGlyphs">reconstraction</text>
<line x1="194.9" y1="351.5" x2="194.9" y2="426.3" stroke="#000" stroke-width="1.3" />
<line x1="194.3" y1="425.7" x2="315.2" y2="425.7" stroke="#000" stroke-width="1.3" />
<line x1="192.6" y1="352" x2="194.9" y2="352" stroke="#000" stroke-width="1" />
<text x="192.3" y="354.3" font-size="6.5" font-weight="bold" text-anchor="end" stroke="#000" stroke-width="0.25">8000</text>
<line x1="192.6" y1="370.5" x2="194.9" y2="370.5" stroke="#000" stroke-width="1" />
<text x="192.3" y="372.8" font-size="6.5" font-weight="bold" text-anchor="end" stroke="#000" stroke-width="0.25">6000</text>
<line x1="192.6" y1="389" x2="194.9" y2="389" stroke="#000" stroke-width="1" />
<text x="192.3" y="391.3" font-size="6.5" font-weight="bold" text-anchor="end" stroke="#000" stroke-width="0.25">4000</text>
<line x1="192.6" y1="407.4" x2="194.9" y2="407.4" stroke="#000" stroke-width="1" />
<text x="192.3" y="409.7" font-size="6.5" font-weight="bold" text-anchor="end" stroke="#000" stroke-width="0.25">2000</text>
<line x1="192.6" y1="425.8" x2="194.9" y2="425.8" stroke="#000" stroke-width="1" />
<text x="192.3" y="428.1" font-size="6.5" font-weight="bold" text-anchor="end" stroke="#000" stroke-width="0.25">0</text>
<text x="206.7" y="434.5" font-size="6.8" font-weight="bold" text-anchor="middle" stroke="#000" stroke-width="0.25">1</text>
<text x="226.87" y="434.5" font-size="6.8" font-weight="bold" text-anchor="middle" stroke="#000" stroke-width="0.25">2</text>
<text x="247.04" y="434.5" font-size="6.8" font-weight="bold" text-anchor="middle" stroke="#000" stroke-width="0.25">3</text>
<text x="267.21" y="434.5" font-size="6.8" font-weight="bold" text-anchor="middle" stroke="#000" stroke-width="0.25">4</text>
<text x="287.38" y="434.5" font-size="6.8" font-weight="bold" text-anchor="middle" stroke="#000" stroke-width="0.25">5</text>
<text x="307.55" y="434.5" font-size="6.8" font-weight="bold" text-anchor="middle" stroke="#000" stroke-width="0.25">6</text>
<text x="245.16" y="442" font-size="6.8" font-weight="bold" stroke="#000" stroke-width="0.25" textLength="19.64" lengthAdjust="spacingAndGlyphs">Month</text>
<text transform="translate(173.4,404) rotate(-90)" font-size="6.6" font-weight="bold" stroke="#000" stroke-width="0.25" textLength="24.1" lengthAdjust="spacingAndGlyphs">Cells/µL</text>
<path d="M205.20,407.00 L225.37,381.90 L245.54,392.70 L265.71,380.50 L285.88,384.20 L306.05,369.70" fill="none" stroke="#000" stroke-width="0.75" stroke-dasharray="1.6,0.6"/>
<line x1="205.2" y1="404" x2="205.2" y2="411.9" stroke="#000" stroke-width="0.9" />
<line x1="203.29999999999998" y1="404" x2="207.1" y2="404" stroke="#000" stroke-width="0.9" />
<line x1="203.29999999999998" y1="411.9" x2="207.1" y2="411.9" stroke="#000" stroke-width="0.9" />
<line x1="225.37" y1="378" x2="225.37" y2="385.9" stroke="#000" stroke-width="0.9" />
<line x1="223.47" y1="378" x2="227.27" y2="378" stroke="#000" stroke-width="0.9" />
<line x1="223.47" y1="385.9" x2="227.27" y2="385.9" stroke="#000" stroke-width="0.9" />
<line x1="245.54" y1="388" x2="245.54" y2="400.1" stroke="#000" stroke-width="0.9" />
<line x1="243.64" y1="388" x2="247.44" y2="388" stroke="#000" stroke-width="0.9" />
<line x1="243.64" y1="400.1" x2="247.44" y2="400.1" stroke="#000" stroke-width="0.9" />
<line x1="265.71" y1="376" x2="265.71" y2="383.2" stroke="#000" stroke-width="0.9" />
<line x1="263.81" y1="376" x2="267.60999999999996" y2="376" stroke="#000" stroke-width="0.9" />
<line x1="263.81" y1="383.2" x2="267.60999999999996" y2="383.2" stroke="#000" stroke-width="0.9" />
<line x1="285.88" y1="380" x2="285.88" y2="390.3" stroke="#000" stroke-width="0.9" />
<line x1="283.98" y1="380" x2="287.78" y2="380" stroke="#000" stroke-width="0.9" />
<line x1="283.98" y1="390.3" x2="287.78" y2="390.3" stroke="#000" stroke-width="0.9" />
<line x1="306.05" y1="367" x2="306.05" y2="372.2" stroke="#000" stroke-width="0.9" />
<line x1="304.15000000000003" y1="367" x2="307.95" y2="367" stroke="#000" stroke-width="0.9" />
<line x1="304.15000000000003" y1="372.2" x2="307.95" y2="372.2" stroke="#000" stroke-width="0.9" />
<path d="M205.2,404.6 L207.6,407 L205.2,409.4 L202.79999999999998,407 Z" fill="#fff" stroke="#000" stroke-width="0.9"/>
<path d="M225.37,379.5 L227.77,381.9 L225.37,384.29999999999995 L222.97,381.9 Z" fill="#fff" stroke="#000" stroke-width="0.9"/>
<path d="M245.54,390.3 L247.94,392.7 L245.54,395.09999999999997 L243.14,392.7 Z" fill="#fff" stroke="#000" stroke-width="0.9"/>
<path d="M265.71,378.1 L268.10999999999996,380.5 L265.71,382.9 L263.31,380.5 Z" fill="#fff" stroke="#000" stroke-width="0.9"/>
<path d="M285.88,381.8 L288.28,384.2 L285.88,386.59999999999997 L283.48,384.2 Z" fill="#fff" stroke="#000" stroke-width="0.9"/>
<path d="M306.05,367.3 L308.45,369.7 L306.05,372.09999999999997 L303.65000000000003,369.7 Z" fill="#fff" stroke="#000" stroke-width="0.9"/>
<path d="M205.20,402.80 L225.37,375.40 L245.54,390.50 L265.71,375.50 L285.88,376.00 L306.05,364.80" fill="none" stroke="#000" stroke-width="0.75" stroke-dasharray="1.6,0.6"/>
<line x1="205.2" y1="399" x2="205.2" y2="406" stroke="#000" stroke-width="0.9" />
<line x1="203.29999999999998" y1="399" x2="207.1" y2="399" stroke="#000" stroke-width="0.9" />
<line x1="203.29999999999998" y1="406" x2="207.1" y2="406" stroke="#000" stroke-width="0.9" />
<line x1="225.37" y1="371" x2="225.37" y2="379" stroke="#000" stroke-width="0.9" />
<line x1="223.47" y1="371" x2="227.27" y2="371" stroke="#000" stroke-width="0.9" />
<line x1="223.47" y1="379" x2="227.27" y2="379" stroke="#000" stroke-width="0.9" />
<line x1="245.54" y1="384.7" x2="245.54" y2="395" stroke="#000" stroke-width="0.9" />
<line x1="243.64" y1="384.7" x2="247.44" y2="384.7" stroke="#000" stroke-width="0.9" />
<line x1="243.64" y1="395" x2="247.44" y2="395" stroke="#000" stroke-width="0.9" />
<line x1="265.71" y1="372" x2="265.71" y2="379" stroke="#000" stroke-width="0.9" />
<line x1="263.81" y1="372" x2="267.60999999999996" y2="372" stroke="#000" stroke-width="0.9" />
<line x1="263.81" y1="379" x2="267.60999999999996" y2="379" stroke="#000" stroke-width="0.9" />
<line x1="285.88" y1="372" x2="285.88" y2="380" stroke="#000" stroke-width="0.9" />
<line x1="283.98" y1="372" x2="287.78" y2="372" stroke="#000" stroke-width="0.9" />
<line x1="283.98" y1="380" x2="287.78" y2="380" stroke="#000" stroke-width="0.9" />
<line x1="306.05" y1="362" x2="306.05" y2="367.5" stroke="#000" stroke-width="0.9" />
<line x1="304.15000000000003" y1="362" x2="307.95" y2="362" stroke="#000" stroke-width="0.9" />
<line x1="304.15000000000003" y1="367.5" x2="307.95" y2="367.5" stroke="#000" stroke-width="0.9" />
<circle cx="205.2" cy="402.8" r="1.9" fill="#fff" stroke="#000" stroke-width="1"/>
<circle cx="225.37" cy="375.4" r="1.9" fill="#fff" stroke="#000" stroke-width="1"/>
<circle cx="245.54" cy="390.5" r="1.9" fill="#fff" stroke="#000" stroke-width="1"/>
<circle cx="265.71" cy="375.5" r="1.9" fill="#fff" stroke="#000" stroke-width="1"/>
<circle cx="285.88" cy="376" r="1.9" fill="#fff" stroke="#000" stroke-width="1"/>
<circle cx="306.05" cy="364.8" r="1.9" fill="#fff" stroke="#000" stroke-width="1"/>
<path d="M205.20,399.50 L225.37,365.10 L245.54,380.00 L265.71,370.50 L285.88,370.50 L306.05,366.90" fill="none" stroke="#000" stroke-width="1.0"/>
<line x1="205.2" y1="396" x2="205.2" y2="403" stroke="#000" stroke-width="0.9" />
<line x1="203.29999999999998" y1="396" x2="207.1" y2="396" stroke="#000" stroke-width="0.9" />
<line x1="203.29999999999998" y1="403" x2="207.1" y2="403" stroke="#000" stroke-width="0.9" />
<line x1="225.37" y1="361" x2="225.37" y2="369.2" stroke="#000" stroke-width="0.9" />
<line x1="223.47" y1="361" x2="227.27" y2="361" stroke="#000" stroke-width="0.9" />
<line x1="223.47" y1="369.2" x2="227.27" y2="369.2" stroke="#000" stroke-width="0.9" />
<line x1="245.54" y1="371.3" x2="245.54" y2="386" stroke="#000" stroke-width="0.9" />
<line x1="243.64" y1="371.3" x2="247.44" y2="371.3" stroke="#000" stroke-width="0.9" />
<line x1="243.64" y1="386" x2="247.44" y2="386" stroke="#000" stroke-width="0.9" />
<line x1="265.71" y1="366" x2="265.71" y2="375" stroke="#000" stroke-width="0.9" />
<line x1="263.81" y1="366" x2="267.60999999999996" y2="366" stroke="#000" stroke-width="0.9" />
<line x1="263.81" y1="375" x2="267.60999999999996" y2="375" stroke="#000" stroke-width="0.9" />
<line x1="285.88" y1="367" x2="285.88" y2="374" stroke="#000" stroke-width="0.9" />
<line x1="283.98" y1="367" x2="287.78" y2="367" stroke="#000" stroke-width="0.9" />
<line x1="283.98" y1="374" x2="287.78" y2="374" stroke="#000" stroke-width="0.9" />
<line x1="306.05" y1="364" x2="306.05" y2="369.5" stroke="#000" stroke-width="0.9" />
<line x1="304.15000000000003" y1="364" x2="307.95" y2="364" stroke="#000" stroke-width="0.9" />
<line x1="304.15000000000003" y1="369.5" x2="307.95" y2="369.5" stroke="#000" stroke-width="0.9" />
<circle cx="205.2" cy="399.5" r="2.4" fill="#000"/>
<circle cx="225.37" cy="365.1" r="2.4" fill="#000"/>
<circle cx="245.54" cy="380" r="2.4" fill="#000"/>
<circle cx="265.71" cy="370.5" r="2.4" fill="#000"/>
<circle cx="285.88" cy="370.5" r="2.4" fill="#000"/>
<circle cx="306.05" cy="366.9" r="2.4" fill="#000"/>
<path d="M205.20,397.70 L225.37,355.50 L245.54,380.00 L265.71,368.90 L285.88,370.50 L306.05,359.00" fill="none" stroke="#000" stroke-width="1.0"/>
<line x1="205.2" y1="395.4" x2="205.2" y2="400" stroke="#000" stroke-width="0.9" />
<line x1="203.29999999999998" y1="395.4" x2="207.1" y2="395.4" stroke="#000" stroke-width="0.9" />
<line x1="203.29999999999998" y1="400" x2="207.1" y2="400" stroke="#000" stroke-width="0.9" />
<line x1="225.37" y1="352.7" x2="225.37" y2="358.5" stroke="#000" stroke-width="0.9" />
<line x1="223.47" y1="352.7" x2="227.27" y2="352.7" stroke="#000" stroke-width="0.9" />
<line x1="223.47" y1="358.5" x2="227.27" y2="358.5" stroke="#000" stroke-width="0.9" />
<line x1="245.54" y1="375" x2="245.54" y2="385" stroke="#000" stroke-width="0.9" />
<line x1="243.64" y1="375" x2="247.44" y2="375" stroke="#000" stroke-width="0.9" />
<line x1="243.64" y1="385" x2="247.44" y2="385" stroke="#000" stroke-width="0.9" />
<line x1="265.71" y1="362.3" x2="265.71" y2="372" stroke="#000" stroke-width="0.9" />
<line x1="263.81" y1="362.3" x2="267.60999999999996" y2="362.3" stroke="#000" stroke-width="0.9" />
<line x1="263.81" y1="372" x2="267.60999999999996" y2="372" stroke="#000" stroke-width="0.9" />
<line x1="285.88" y1="364.8" x2="285.88" y2="376" stroke="#000" stroke-width="0.9" />
<line x1="283.98" y1="364.8" x2="287.78" y2="364.8" stroke="#000" stroke-width="0.9" />
<line x1="283.98" y1="376" x2="287.78" y2="376" stroke="#000" stroke-width="0.9" />
<line x1="306.05" y1="357" x2="306.05" y2="361" stroke="#000" stroke-width="0.9" />
<line x1="304.15000000000003" y1="357" x2="307.95" y2="357" stroke="#000" stroke-width="0.9" />
<line x1="304.15000000000003" y1="361" x2="307.95" y2="361" stroke="#000" stroke-width="0.9" />
<path d="M205.2,395.0 L207.9,397.7 L205.2,400.4 L202.49999999999997,397.7 Z" fill="#000"/>
<path d="M225.37,352.8 L228.07000000000002,355.5 L225.37,358.2 L222.67,355.5 Z" fill="#000"/>
<path d="M245.54,377.3 L248.24,380 L245.54,382.7 L242.83999999999997,380 Z" fill="#000"/>
<path d="M265.71,366.2 L268.40999999999997,368.9 L265.71,371.59999999999997 L263.01,368.9 Z" fill="#000"/>
<path d="M285.88,367.8 L288.58,370.5 L285.88,373.2 L283.18,370.5 Z" fill="#000"/>
<path d="M306.05,356.3 L308.75,359 L306.05,361.7 L303.35,359 Z" fill="#000"/>
<line x1="209.5" y1="448.75" x2="218.5" y2="448.75" stroke="#000" stroke-width="1"/>
<circle cx="214.0" cy="448.75" r="2.1" fill="#000"/>
<text x="220.2" y="451.05" font-size="6" stroke="#000" stroke-width="0.15" textLength="48" lengthAdjust="spacingAndGlyphs">Magselectofection</text>
<line x1="209.5" y1="458.25" x2="218.5" y2="458.25" stroke="#000" stroke-width="1" stroke-dasharray="1.2,1"/>
<circle cx="214.0" cy="458.25" r="1.6" fill="#fff" stroke="#000" stroke-width="1"/>
<text x="220.2" y="460.55" font-size="6" stroke="#000" stroke-width="0.15" textLength="17.5" lengthAdjust="spacingAndGlyphs">Culture</text>
<line x1="209.5" y1="467.5" x2="218.5" y2="467.5" stroke="#000" stroke-width="1"/>
<path d="M214.0,465.0 L216.5,467.5 L214.0,470.0 L211.5,467.5 Z" fill="#000"/>
<text x="220.2" y="469.8" font-size="6" stroke="#000" stroke-width="0.15" textLength="48" lengthAdjust="spacingAndGlyphs">Magselectofection</text>
<line x1="209.5" y1="475.0" x2="218.5" y2="475.0" stroke="#000" stroke-width="1" stroke-dasharray="1.2,1"/>
<path d="M214.0,472.9 L216.1,475.0 L214.0,477.1 L211.9,475.0 Z" fill="#fff" stroke="#000" stroke-width="0.9"/>
<text x="220.2" y="477.3" font-size="6" stroke="#000" stroke-width="0.15" textLength="17.5" lengthAdjust="spacingAndGlyphs">Culture</text>
<line x1="272" y1="444.3" x2="272" y2="459.5" stroke="#000" stroke-width="1.1" />
<line x1="272" y1="462" x2="272" y2="476.3" stroke="#000" stroke-width="1.1" />
<text x="278.7" y="454.3" font-size="6" stroke="#000" stroke-width="0.08" textLength="28.8" lengthAdjust="spacingAndGlyphs">B220<tspan font-size="4.6" dy="-2.4">+</tspan><tspan dy="2.4">IgM</tspan><tspan font-size="4.6" dy="-2.4">+</tspan></text>
<text x="278.7" y="471.3" font-size="6" stroke="#000" stroke-width="0.08" textLength="28.8" lengthAdjust="spacingAndGlyphs">B220<tspan font-size="4.6" dy="-2.4">+</tspan><tspan dy="2.4">IgD</tspan><tspan font-size="4.6" dy="-2.4">+</tspan></text>
<text x="320.03" y="331.2" font-size="14" font-weight="bold" stroke="#000" stroke-width="0.25" textLength="7.95" lengthAdjust="spacingAndGlyphs">F</text>
<text x="332.77" y="329.8" font-size="12.5" stroke="#000" stroke-width="0.35" textLength="168.34" lengthAdjust="spacingAndGlyphs">GFP+ cells in peripheral blood</text>
<line x1="346.2" y1="354.7" x2="346.2" y2="447.40000000000003" stroke="#000" stroke-width="1.3" />
<line x1="345.59999999999997" y1="446.8" x2="466.3" y2="446.8" stroke="#000" stroke-width="1.3" />
<line x1="343.9" y1="355.2" x2="346.2" y2="355.2" stroke="#000" stroke-width="1" />
<text x="343.59999999999997" y="357.5" font-size="6.5" font-weight="bold" text-anchor="end" stroke="#000" stroke-width="0.25">100</text>
<line x1="343.9" y1="378.1" x2="346.2" y2="378.1" stroke="#000" stroke-width="1" />
<text x="343.59999999999997" y="380.40000000000003" font-size="6.5" font-weight="bold" text-anchor="end" stroke="#000" stroke-width="0.25">75</text>
<line x1="343.9" y1="401.1" x2="346.2" y2="401.1" stroke="#000" stroke-width="1" />
<text x="343.59999999999997" y="403.40000000000003" font-size="6.5" font-weight="bold" text-anchor="end" stroke="#000" stroke-width="0.25">50</text>
<line x1="343.9" y1="424" x2="346.2" y2="424" stroke="#000" stroke-width="1" />
<text x="343.59999999999997" y="426.3" font-size="6.5" font-weight="bold" text-anchor="end" stroke="#000" stroke-width="0.25">25</text>
<line x1="343.9" y1="446.9" x2="346.2" y2="446.9" stroke="#000" stroke-width="1" />
<text x="343.59999999999997" y="449.2" font-size="6.5" font-weight="bold" text-anchor="end" stroke="#000" stroke-width="0.25">0</text>
<line x1="358.6" y1="446.8" x2="358.6" y2="448.8" stroke="#000" stroke-width="1" />
<text x="359.1" y="456.6" font-size="7.6" font-weight="bold" text-anchor="middle" stroke="#000" stroke-width="0.25">2</text>
<line x1="382.55" y1="446.8" x2="382.55" y2="448.8" stroke="#000" stroke-width="1" />
<text x="383.05" y="456.6" font-size="7.6" font-weight="bold" text-anchor="middle" stroke="#000" stroke-width="0.25">3</text>
<line x1="406.5" y1="446.8" x2="406.5" y2="448.8" stroke="#000" stroke-width="1" />
<text x="407.0" y="456.6" font-size="7.6" font-weight="bold" text-anchor="middle" stroke="#000" stroke-width="0.25">4</text>
<line x1="430.45000000000005" y1="446.8" x2="430.45000000000005" y2="448.8" stroke="#000" stroke-width="1" />
<text x="430.95000000000005" y="456.6" font-size="7.6" font-weight="bold" text-anchor="middle" stroke="#000" stroke-width="0.25">5</text>
<line x1="454.40000000000003" y1="446.8" x2="454.40000000000003" y2="448.8" stroke="#000" stroke-width="1" />
<text x="454.90000000000003" y="456.6" font-size="7.6" font-weight="bold" text-anchor="middle" stroke="#000" stroke-width="0.25">6</text>
<text x="395.95" y="468.3" font-size="6.8" font-weight="bold" stroke="#000" stroke-width="0.25" textLength="20.06" lengthAdjust="spacingAndGlyphs">Month</text>
<text transform="translate(327.4,432) rotate(-90)" font-size="6.8" font-weight="bold" stroke="#000" stroke-width="0.25" textLength="60.6" lengthAdjust="spacingAndGlyphs">GFP+ cells (%)</text>
<path d="M358.60,428.50 L382.55,427.70 L406.50,413.80 L430.45,417.10 L454.40,428.70" fill="none" stroke="#000" stroke-width="0.9" stroke-dasharray="1.2,1"/>
<circle cx="358.6" cy="428.5" r="1.7999999999999998" fill="#fff" stroke="#000" stroke-width="1"/>
<circle cx="382.55" cy="427.7" r="1.7999999999999998" fill="#fff" stroke="#000" stroke-width="1"/>
<circle cx="406.5" cy="413.8" r="1.7999999999999998" fill="#fff" stroke="#000" stroke-width="1"/>
<circle cx="430.45000000000005" cy="417.1" r="1.7999999999999998" fill="#fff" stroke="#000" stroke-width="1"/>
<circle cx="454.40000000000003" cy="428.7" r="1.7999999999999998" fill="#fff" stroke="#000" stroke-width="1"/>
<path d="M358.60,429.20 L382.55,435.70 L406.50,432.80 L430.45,422.60 L454.40,428.20" fill="none" stroke="#000" stroke-width="1.0"/>
<line x1="358.6" y1="426.2" x2="358.6" y2="432.2" stroke="#000" stroke-width="0.9" />
<line x1="356.70000000000005" y1="426.2" x2="360.5" y2="426.2" stroke="#000" stroke-width="0.9" />
<line x1="356.70000000000005" y1="432.2" x2="360.5" y2="432.2" stroke="#000" stroke-width="0.9" />
<rect x="356.40000000000003" y="427.0" width="4.4" height="4.4" fill="#000"/>
<rect x="380.35" y="433.5" width="4.4" height="4.4" fill="#000"/>
<rect x="404.3" y="430.6" width="4.4" height="4.4" fill="#000"/>
<rect x="428.25000000000006" y="420.40000000000003" width="4.4" height="4.4" fill="#000"/>
<rect x="452.20000000000005" y="426.0" width="4.4" height="4.4" fill="#000"/>
<path d="M358.60,414.90 L382.55,418.00 L406.50,414.30 L430.45,413.80 L454.40,429.50" fill="none" stroke="#000" stroke-width="1.0"/>
<line x1="454.40000000000003" y1="427.0" x2="454.40000000000003" y2="432.0" stroke="#000" stroke-width="0.9" />
<line x1="452.50000000000006" y1="427.0" x2="456.3" y2="427.0" stroke="#000" stroke-width="0.9" />
<line x1="452.50000000000006" y1="432.0" x2="456.3" y2="432.0" stroke="#000" stroke-width="0.9" />
<rect x="356.70000000000005" y="413.0" width="3.8" height="3.8" fill="#fff" stroke="#000" stroke-width="1"/>
<rect x="380.65000000000003" y="416.1" width="3.8" height="3.8" fill="#fff" stroke="#000" stroke-width="1"/>
<rect x="404.6" y="412.40000000000003" width="3.8" height="3.8" fill="#fff" stroke="#000" stroke-width="1"/>
<rect x="428.55000000000007" y="411.90000000000003" width="3.8" height="3.8" fill="#fff" stroke="#000" stroke-width="1"/>
<rect x="452.50000000000006" y="427.6" width="3.8" height="3.8" fill="#fff" stroke="#000" stroke-width="1"/>
<path d="M358.60,408.90 L382.55,411.50 L406.50,409.70 L430.45,409.70 L454.40,414.30" fill="none" stroke="#000" stroke-width="1.0"/>
<line x1="406.5" y1="406.7" x2="406.5" y2="412.7" stroke="#000" stroke-width="0.9" />
<line x1="404.6" y1="406.7" x2="408.4" y2="406.7" stroke="#000" stroke-width="0.9" />
<line x1="404.6" y1="412.7" x2="408.4" y2="412.7" stroke="#000" stroke-width="0.9" />
<line x1="454.40000000000003" y1="410.8" x2="454.40000000000003" y2="417.8" stroke="#000" stroke-width="0.9" />
<line x1="452.50000000000006" y1="410.8" x2="456.3" y2="410.8" stroke="#000" stroke-width="0.9" />
<line x1="452.50000000000006" y1="417.8" x2="456.3" y2="417.8" stroke="#000" stroke-width="0.9" />
<path d="M358.6,406.4 L361.1,408.9 L358.6,411.4 L356.1,408.9 Z" fill="#000"/>
<path d="M382.55,409.0 L385.05,411.5 L382.55,414.0 L380.05,411.5 Z" fill="#000"/>
<path d="M406.5,407.2 L409.0,409.7 L406.5,412.2 L404.0,409.7 Z" fill="#000"/>
<path d="M430.45000000000005,407.2 L432.95000000000005,409.7 L430.45000000000005,412.2 L427.95000000000005,409.7 Z" fill="#000"/>
<path d="M454.40000000000003,411.8 L456.90000000000003,414.3 L454.40000000000003,416.8 L451.90000000000003,414.3 Z" fill="#000"/>
<path d="M358.60,398.70 L382.55,382.70 L406.50,401.40 L430.45,382.90 L454.40,405.50" fill="none" stroke="#000" stroke-width="1.0"/>
<line x1="358.6" y1="394.0" x2="358.6" y2="403.4" stroke="#000" stroke-width="0.9" />
<line x1="356.70000000000005" y1="394.0" x2="360.5" y2="394.0" stroke="#000" stroke-width="0.9" />
<line x1="356.70000000000005" y1="403.4" x2="360.5" y2="403.4" stroke="#000" stroke-width="0.9" />
<line x1="406.5" y1="395.4" x2="406.5" y2="407.4" stroke="#000" stroke-width="0.9" />
<line x1="404.6" y1="395.4" x2="408.4" y2="395.4" stroke="#000" stroke-width="0.9" />
<line x1="404.6" y1="407.4" x2="408.4" y2="407.4" stroke="#000" stroke-width="0.9" />
<line x1="430.45000000000005" y1="376.4" x2="430.45000000000005" y2="389.4" stroke="#000" stroke-width="0.9" />
<line x1="428.55000000000007" y1="376.4" x2="432.35" y2="376.4" stroke="#000" stroke-width="0.9" />
<line x1="428.55000000000007" y1="389.4" x2="432.35" y2="389.4" stroke="#000" stroke-width="0.9" />
<line x1="454.40000000000003" y1="399.7" x2="454.40000000000003" y2="411.3" stroke="#000" stroke-width="0.9" />
<line x1="452.50000000000006" y1="399.7" x2="456.3" y2="399.7" stroke="#000" stroke-width="0.9" />
<line x1="452.50000000000006" y1="411.3" x2="456.3" y2="411.3" stroke="#000" stroke-width="0.9" />
<circle cx="358.6" cy="398.7" r="2.1" fill="#000"/>
<circle cx="382.55" cy="382.7" r="2.1" fill="#000"/>
<circle cx="406.5" cy="401.4" r="2.1" fill="#000"/>
<circle cx="430.45000000000005" cy="382.9" r="2.1" fill="#000"/>
<circle cx="454.40000000000003" cy="405.5" r="2.1" fill="#000"/>
<line x1="470" y1="377.9" x2="479.5" y2="377.9" stroke="#000" stroke-width="1" stroke-dasharray="1.2,1"/>
<circle cx="474.75" cy="377.9" r="1.6" fill="#fff" stroke="#000" stroke-width="1"/>
<text x="481.2" y="380.2" font-size="6.3" stroke="#000" stroke-width="0.12" textLength="33.2" lengthAdjust="spacingAndGlyphs">Erythrocytes</text>
<line x1="470" y1="388.79999999999995" x2="479.5" y2="388.79999999999995" stroke="#000" stroke-width="1"/>
<rect x="472.65" y="386.69999999999993" width="4.2" height="4.2" fill="#000"/>
<text x="481.2" y="391.09999999999997" font-size="6.3" stroke="#000" stroke-width="0.12" textLength="30" lengthAdjust="spacingAndGlyphs">CD3<tspan font-size="4.6" dy="-2.4">+</tspan><tspan dy="2.4">CD4</tspan><tspan font-size="4.6" dy="-2.4">+</tspan></text>
<line x1="470" y1="399.7" x2="479.5" y2="399.7" stroke="#000" stroke-width="1"/>
<rect x="473.15" y="398.09999999999997" width="3.2" height="3.2" fill="#fff" stroke="#000" stroke-width="1"/>
<text x="481.2" y="402.0" font-size="6.3" stroke="#000" stroke-width="0.12" textLength="30" lengthAdjust="spacingAndGlyphs">CD3<tspan font-size="4.6" dy="-2.4">+</tspan><tspan dy="2.4">CD8</tspan><tspan font-size="4.6" dy="-2.4">+</tspan></text>
<line x1="470" y1="410.59999999999997" x2="479.5" y2="410.59999999999997" stroke="#000" stroke-width="1"/>
<path d="M474.75,408.09999999999997 L477.25,410.59999999999997 L474.75,413.09999999999997 L472.25,410.59999999999997 Z" fill="#000"/>
<text x="481.2" y="412.9" font-size="6.3" stroke="#000" stroke-width="0.12" textLength="30" lengthAdjust="spacingAndGlyphs">B220<tspan font-size="4.6" dy="-2.4">+</tspan><tspan dy="2.4">IgD</tspan><tspan font-size="4.6" dy="-2.4">+</tspan></text>
<line x1="470" y1="421.5" x2="479.5" y2="421.5" stroke="#000" stroke-width="1"/>
<circle cx="474.75" cy="421.5" r="2.1" fill="#000"/>
<text x="481.2" y="423.8" font-size="6.3" stroke="#000" stroke-width="0.12" textLength="38.4" lengthAdjust="spacingAndGlyphs">CD11b<tspan font-size="4.6" dy="-2.4">+</tspan><tspan dy="2.4">Gr-1</tspan><tspan font-size="4.6" dy="-2.4">+</tspan></text>
</svg>
</body></html>
